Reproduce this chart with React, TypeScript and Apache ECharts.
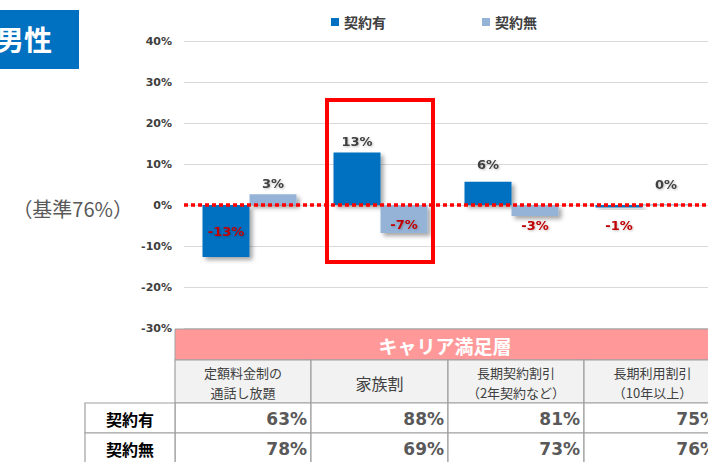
import React, { useEffect, useRef } from "react";
import * as echarts from "echarts";

// ---- data ----
const categories = ["定額料金制の通話し放題", "家族割", "長期契約割引", "長期利用割引"];
const categoryLines = [
  ["定額料金制の", "通話し放題"],
  ["家族割"],
  ["長期契約割引", "（2年契約など）"],
  ["長期利用割引", "（10年以上）"],
];
const seriesNames = ["契約有", "契約無"];
const diffWith = [-12.7, 12.8, 5.7, -0.6];
const diffWithout = [2.6, -6.8, -2.7, 0.2];
const tableWith = [63, 88, 81, 75];
const tableWithout = [78, 69, 73, 76];
const baseLabel = "（基準76%）";
const tableTitle = "キャリア満足層";
const titleText = "男性";
const yMin = -30;
const yMax = 40;
const yInterval = 10;

// ---- styles ----
const BLUE = "#0070c0";
const LIGHT = "#95b3d7";
const NEG = "#c00000";
const POS = "#404040";
const blueLabelPos: any[] = [
  { position: "inside" },
  { position: "top", distance: 5 },
  { position: "top", distance: 11 },
  { position: "bottom", distance: 12 },
];
const lightLabelPos: any[] = [
  { position: "top", distance: 4 },
  { position: "insideBottom", distance: 2 },
  { position: "bottom", distance: 3 },
  { position: "top", distance: 13 },
];

const colX = [175, 311, 448, 584, 721];
const rowLabelX = 85;
const yHeaderTop = 329;
const yCatTop = 360;
const yRow1Top = 403;
const yRow2Top = 433;
const yBottom = 463;
const BORDER = "#a0a0a0";
const CJK = "'Noto Sans CJK JP', sans-serif";

function buildTable(): any[] {
  const els: any[] = [];
  els.push({
    type: "rect",
    shape: { x: colX[0], y: yHeaderTop, width: colX[4] - colX[0], height: yCatTop - yHeaderTop },
    style: { fill: "#ff9999", stroke: BORDER, lineWidth: 1 },
    z: 100,
  });
  els.push({
    type: "text",
    x: (colX[0] + colX[4]) / 2 - 3,
    y: (yHeaderTop + yCatTop) / 2 + 1,
    style: {
      text: tableTitle,
      fill: "#ffffff",
      font: `bold 19px ${CJK}`,
      align: "center",
      verticalAlign: "middle",
    },
    z: 101,
  });
  const rows = [
    { label: seriesNames[0], top: yRow1Top, bottom: yRow2Top, vals: tableWith },
    { label: seriesNames[1], top: yRow2Top, bottom: yBottom, vals: tableWithout },
  ];
  for (let i = 0; i < 4; i++) {
    const x0 = colX[i];
    const w = colX[i + 1] - colX[i];
    els.push({
      type: "rect",
      shape: { x: x0, y: yCatTop, width: w, height: yRow1Top - yCatTop },
      style: { fill: "#f2f2f2", stroke: BORDER, lineWidth: 1.2 },
      z: 100,
    });
    const lines = categoryLines[i];
    const cy = (yCatTop + yRow1Top) / 2;
    lines.forEach((ln, k) => {
      const single = lines.length === 1;
      const off = single ? 0 : (k === 0 ? -10 : 10);
      els.push({
        type: "text",
        x: x0 + w / 2,
        y: cy + off + 1,
        style: {
          text: ln,
          fill: "#404040",
          font: `${single ? 16 : 13}px ${CJK}`,
          align: "center",
          verticalAlign: "middle",
        },
        z: 101,
      });
    });
    rows.forEach((r) => {
      els.push({
        type: "rect",
        shape: { x: x0, y: r.top, width: w, height: r.bottom - r.top },
        style: { fill: "#ffffff", stroke: BORDER, lineWidth: 1.2 },
        z: 100,
      });
      els.push({
        type: "text",
        x: x0 + w - 4,
        y: (r.top + r.bottom) / 2 + 1,
        style: {
          text: r.vals[i] + "%",
          fill: "#595959",
          font: `bold 17px 'DejaVu Sans', sans-serif`,
          align: "right",
          verticalAlign: "middle",
        },
        z: 101,
      });
    });
  }
  rows.forEach((r) => {
    els.push({
      type: "rect",
      shape: { x: rowLabelX, y: r.top, width: colX[0] - rowLabelX, height: r.bottom - r.top },
      style: { fill: "#ffffff", stroke: BORDER, lineWidth: 1.2 },
      z: 100,
    });
    els.push({
      type: "text",
      x: (rowLabelX + colX[0]) / 2,
      y: (r.top + r.bottom) / 2 + 1,
      style: {
        text: r.label,
        fill: "#000000",
        font: `bold 16px ${CJK}`,
        align: "center",
        verticalAlign: "middle",
      },
      z: 101,
    });
  });
  return els;
}

export default function App() {
  const ref = useRef<HTMLDivElement>(null);
  useEffect(() => {
    if (!ref.current) return;
    const chart = echarts.init(ref.current, null, { renderer: "svg" });
    const labelText = (p: any) => Math.round(p.value) + "%";
    const labelBase = {
      show: true,
      formatter: labelText,
      fontFamily: "'DejaVu Sans', sans-serif",
      fontWeight: "bold",
      fontSize: 13,
      textShadowColor: "rgba(0,0,0,0.25)",
      textShadowBlur: 2,
      textShadowOffsetX: 1,
      textShadowOffsetY: 1,
    };
    const mk = (vals: number[], pos: any[]) =>
      vals.map((v, i) => ({
        value: v,
        label: { ...pos[i], color: v < 0 ? NEG : POS },
      }));
    const shadow = {
      shadowColor: "rgba(0,0,0,0.35)",
      shadowBlur: 4,
      shadowOffsetX: 3,
      shadowOffsetY: 3,
    };
    chart.setOption({
      animation: false,
      backgroundColor: "#ffffff",
      legend: {
        data: seriesNames,
        left: 326,
        top: 10,
        icon: "rect",
        itemWidth: 8,
        itemHeight: 8,
        itemGap: 96,
        textStyle: { fontSize: 14, color: "#404040", fontFamily: CJK, fontWeight: "bold" },
      },
      grid: { left: 184, top: 41, width: 528, height: 287 },
      xAxis: {
        type: "category",
        data: categories,
        axisLine: { show: false },
        axisTick: { show: false },
        axisLabel: { show: false },
        splitLine: { show: false },
      },
      yAxis: {
        type: "value",
        min: yMin,
        max: yMax,
        interval: yInterval,
        axisLine: { show: false },
        axisTick: { show: false },
        axisLabel: {
          formatter: (v: number) => v + "%",
          color: "#404040",
          fontWeight: "bold",
          fontSize: 11,
          fontFamily: "'DejaVu Sans', sans-serif",
          margin: 12,
        },
        splitLine: { lineStyle: { color: "#d9d9d9", width: 1 } },
      },
      series: [
        {
          name: seriesNames[0],
          type: "bar",
          data: mk(diffWith, blueLabelPos),
          barWidth: 47,
          barGap: "0%",
          itemStyle: { color: BLUE, ...shadow },
          label: labelBase,
        },
        {
          name: seriesNames[1],
          type: "bar",
          data: mk(diffWithout, lightLabelPos),
          barWidth: 47,
          barGap: "0%",
          itemStyle: { color: LIGHT, ...shadow },
          label: labelBase,
          markLine: {
            silent: true,
            symbol: "none",
            label: { show: false },
            z: 10,
            lineStyle: { color: "#ff0000", width: 3.5, type: [4, 3] },
            data: [{ yAxis: 0 }],
          },
        },
      ],
      graphic: [
        {
          type: "rect",
          shape: { x: 0, y: 10, width: 79, height: 59 },
          style: { fill: BLUE },
        },
        {
          type: "text",
          x: 52,
          y: 39,
          style: {
            text: titleText,
            fill: "#ffffff",
            font: `bold 28px ${CJK}`,
            align: "right",
            verticalAlign: "middle",
          },
        },
        {
          type: "text",
          x: 133,
          y: 208,
          style: {
            text: baseLabel,
            fill: "#595959",
            font: `20px ${CJK}`,
            align: "right",
            verticalAlign: "middle",
          },
        },
        {
          type: "rect",
          shape: { x: 327, y: 100, width: 106, height: 162 },
          style: { fill: "none", stroke: "#ff0000", lineWidth: 4 },
          z: 50,
        },
        ...buildTable(),
      ],
    });
    return () => chart.dispose();
  }, []);
  return (
    <div
      ref={ref}
      style={{ position: "fixed", left: 0, top: 0, width: 708, height: 462, background: "#fff" }}
    />
  );
}
